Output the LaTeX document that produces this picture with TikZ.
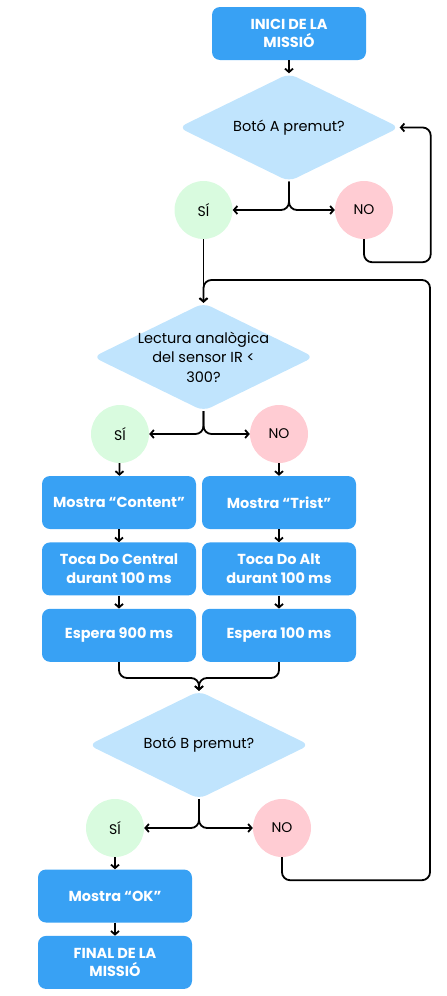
\documentclass[tikz,border=0pt]{standalone}
\usepackage{fontspec}
\setmainfont{Poppins}
\usetikzlibrary{shapes.geometric, arrows.meta, positioning, calc}
\definecolor{boxblue}{HTML}{38A1F4}
\definecolor{askblue}{HTML}{C0E4FD}
\definecolor{yesgreen}{HTML}{D9FBDF}
\definecolor{nopink}{HTML}{FFCCD3}
\tikzset{
  block/.style={rectangle, rounded corners=8pt, fill=boxblue,
                minimum width=154pt, minimum height=53pt, inner sep=2pt,
                align=center, text=white, font=\fontsize{14.5}{18.5}\selectfont\bfseries},
  ask/.style={diamond, rounded corners=8pt, fill=askblue,
              minimum width=221pt, minimum height=108pt, aspect=2.05, inner sep=1pt,
              align=center, font=\fontsize{14.5}{19.5}\selectfont},
  yes/.style={circle, fill=yesgreen, minimum size=58pt, inner sep=0pt,
              font=\fontsize{14}{16}\selectfont},
  no/.style={circle, fill=nopink, minimum size=58pt, inner sep=0pt,
             font=\fontsize{14}{16}\selectfont},
  arrow/.style={-{Straight Barb[length=3.5pt, width=8pt]}, line width=1.8pt},
  link/.style={line width=1.8pt, rounded corners=8pt},
}
\begin{document}
\begin{tikzpicture}[x=1pt, y=-1pt]
\useasboundingbox (0,0) rectangle (447,996);

\node[block] (start) at (289,33.5) {INICI DE LA\\MISSIÓ};
\node[ask] (askA) at (289,127.5) {Botó A premut?};
\node[yes] (yesA) at (203.5,210) {SÍ};
\node[no] (noA) at (364,210) {NO};

\node[ask, inner sep=-3pt] (askIR) at (203.5,357) {Lectura analògica\\del sensor IR <\\300?};
\node[yes] (yesIR) at (120,434) {SÍ};
\node[no] (noIR) at (279,434) {NO};

% two columns of actions
\node[block] (showC) at (119,502.5) {Mostra “Content”};
\node[block, below=13pt of showC] (playC) {Toca Do Central\\durant 100 ms};
\node[block, below=13pt of playC] (waitC) {Espera 900 ms};
\node[block] (showT) at (279,502.5) {Mostra “Trist”};
\node[block, below=13pt of showT] (playT) {Toca Do Alt\\durant 100 ms};
\node[block, below=13pt of playT] (waitT) {Espera 100 ms};

\node[ask] (askB) at (199,745) {Botó B premut?};
\node[yes] (yesB) at (115,828) {SÍ};
\node[no] (noB) at (282,828) {NO};
\node[block] (showOK) at (115,896) {Mostra “OK”};
\node[block, below=13pt of showOK] (finish) {FINAL DE LA\\MISSIÓ};

\coordinate (back) at (430,280);
\coordinate (merge) at ($(waitC.south)!0.5!(waitT.south)+(0,16)$);

\draw[arrow] (start) -- (askA);
\draw[arrow, link] (askA.south) |- (yesA.east);
\draw[arrow, link] (askA.south) |- (noA.west);
\draw[arrow, link] (noA.south) -- ++(0,23) -| ($(askA.east)+(31,0)$) -- (askA.east);
\draw[arrow] (yesA) -- (askIR);

\draw[arrow, link] (askIR.south) |- (yesIR.east);
\draw[arrow, link] (askIR.south) |- (noIR.west);
\draw[arrow] (yesIR) -- (showC);
\draw[arrow] (showC) -- (playC);
\draw[arrow] (playC) -- (waitC);
\draw[arrow] (noIR) -- (showT);
\draw[arrow] (showT) -- (playT);
\draw[arrow] (playT) -- (waitT);

\draw[arrow, link] (waitC.south) |- (merge) -- (askB.north);
\draw[arrow, link] (waitT.south) |- (merge) -- (askB.north);

\draw[arrow, link] (askB.south) |- (yesB.east);
\draw[arrow, link] (askB.south) |- (noB.west);
\draw[arrow, link] (noB.south) -- ++(0,23) -| (back) -| (askIR.north);
\draw[arrow] (yesB) -- (showOK);
\draw[arrow] (showOK) -- (finish);
\end{tikzpicture}
\end{document}
